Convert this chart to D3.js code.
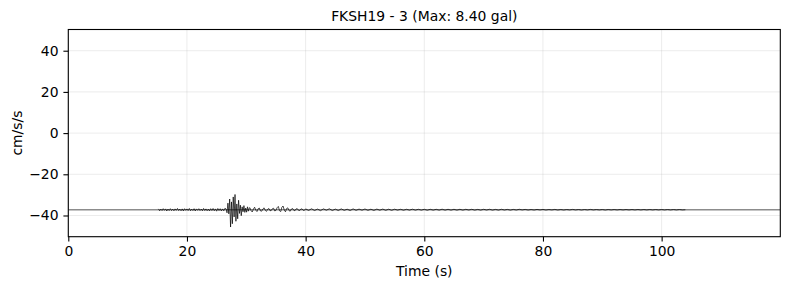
<!DOCTYPE html>
<html>
<head>
<meta charset="utf-8">
<script src="https://cdn.jsdelivr.net/npm/d3@7"></script>
<style>
  body { margin: 0; background: #fff; }
  svg { font-family: "DejaVu Sans", sans-serif; }
</style>
</head>
<body>
<div id="vis"></div>
<script>
// station record, cm/s/s, stored as deviation from the record offset
const title = "FKSH19 - 3 (Max: 8.40 gal)";
const offset = -37.2;
const xTicks = [0, 20, 40, 60, 80, 100];
const yTicks = [-40, -20, 0, 20, 40];

// pre-event noise, 15.2 s .. 26.4 s every 0.2 s
const noiseStart = 15.2, noiseStep = 0.2;
const noiseValues = [0.4,-0.5,0.3,-0.4,0.5,-0.3,0.4,-0.6,0.3,-0.4,
  0.5,-0.4,0.3,-0.5,0.4,-0.3,0.6,-0.4,0.3,-0.5,
  0.4,-0.6,0.5,-0.3,0.4,-0.4,0.6,-0.5,0.3,-0.4,
  0.5,-0.6,0.4,-0.3,0.5,-0.4,0.3,-0.5,0.6,-0.4,
  0.4,-0.5,0.3,-0.6,0.5,-0.4,0.6,-0.5,0.4,-0.7,
  0.6,-0.4,0.5,-0.6,0.4,-0.5,0.7];

// main shaking, 26.6 s .. 30.5 s every 0.15 s
const burstStart = 26.6, burstStep = 0.15;
const burstValues = [0.3,-1.5,3.2,-2.0,5.2,-8.4,3.8,-6.8,6.2,-3.5,
  7.4,-5.6,2.8,-4.4,4.6,-1.8,2.2,-2.9,1.4,-1.0,
  2.0,-1.3,0.8,-1.2,1.4,-0.7,0.9];

// coda, 30.6 s .. 39.8 s every 0.2 s
const codaStart = 30.6, codaStep = 0.2;
const codaValues = [1.0,-0.4,-1.1,0.3,1.2,-0.2,-0.9,0.5,0.8,-0.6,
  -0.7,0.4,0.9,-0.3,-0.8,0.2,0.6,-0.5,-0.4,0.5,
  0.7,-0.6,-0.3,1.0,1.6,-0.5,-0.9,1.2,1.8,-0.2,
  -1.0,0.6,0.9,-0.4,-0.7,0.3,0.6,-0.3,-0.5,0.4,
  0.5,-0.3,-0.4,0.3,0.4,-0.3,-0.3];

// tail, 40 s .. 104 s every 0.5 s
const tailStart = 40, tailStep = 0.5;
const tailValues = [0.4,-0.35,0.45,-0.4,0.3,-0.45,0.4,-0.25,0.45,-0.4,
  0.3,-0.4,0.4,-0.3,0.25,-0.4,0.4,-0.3,0.3,-0.25,
  0.35,-0.3,0.25,-0.35,0.3,-0.25,0.3,-0.3,0.25,-0.3,
  0.25,-0.2,0.2,-0.25,0.2,-0.2,0.25,-0.2,0.2,-0.2,
  0.2,-0.25,0.2,-0.2,0.2,-0.2,0.25,-0.2,0.2,-0.2,
  0.2,-0.2,0.2,-0.2,0.2,-0.15,0.2,-0.2,0.15,-0.2,
  0.2,-0.15,0.2,-0.2,0.15,-0.2,0.2,-0.15,0.15,-0.2,
  0.15,-0.15,0.2,-0.1,0.15,-0.15,0.1,-0.15,0.15,-0.1,
  0.15,-0.15,0.1,-0.1,0.15,-0.15,0.1,-0.15,0.1,-0.1,
  0.15,-0.1,0.1,-0.15,0.1,-0.1,0.15,-0.1,0.1,-0.1,
  0.1,-0.15,0.1,-0.1,0.1,-0.1,0.1,-0.1,0.1,-0.1,
  0.1,-0.1,0.1,-0.1,0.1,-0.1,0.1,-0.1,0.1,-0.1,
  0.1,-0.1,0.1,-0.1,0.1,-0.1,0.1,-0.1,0.0];

const width = 790, height = 290;
const margin = { top: 29.5, right: 9.7, bottom: 53.3, left: 68.3 };

const segments = [
  [noiseStart, noiseStep, noiseValues],
  [burstStart, burstStep, burstValues],
  [codaStart, codaStep, codaValues],
  [tailStart, tailStep, tailValues]
];
const trace = segments.flatMap(([t0, dt, vals]) =>
  vals.map((v, i) => ({ t: t0 + i * dt, a: offset + v })));

const svg = d3.select("#vis").append("svg")
  .attr("width", width).attr("height", height)
  .attr("viewBox", [0, 0, width, height]);

const x = d3.scaleLinear([0, 120], [margin.left, width - margin.right]);
const y = d3.scaleLinear([-50.3, 50.3], [height - margin.bottom, margin.top]);

// grid
svg.append("g")
  .attr("stroke", "#b0b0b0").attr("stroke-opacity", 0.3).attr("stroke-width", 0.8)
  .call(g => g.selectAll(".vx").data(xTicks).join("line")
    .attr("x1", d => x(d)).attr("x2", d => x(d))
    .attr("y1", margin.top).attr("y2", height - margin.bottom))
  .call(g => g.selectAll(".hy").data(yTicks).join("line")
    .attr("class", "hy")
    .attr("x1", margin.left).attr("x2", width - margin.right)
    .attr("y1", d => y(d)).attr("y2", d => y(d)));

const plot = svg.append("g");
plot.append("clipPath").attr("id", "clip").append("rect")
  .attr("x", margin.left).attr("y", margin.top)
  .attr("width", width - margin.left - margin.right)
  .attr("height", height - margin.top - margin.bottom);

// offset reference line
plot.append("line")
  .attr("clip-path", "url(#clip)")
  .attr("x1", margin.left).attr("x2", width - margin.right)
  .attr("y1", y(offset)).attr("y2", y(offset))
  .attr("stroke", "#8c8c8c").attr("stroke-width", 1.4);

const line = d3.line().x(d => x(d.t)).y(d => y(d.a));
plot.append("path")
  .datum(trace)
  .attr("clip-path", "url(#clip)")
  .attr("fill", "none")
  .attr("stroke", "#000")
  .attr("stroke-width", 0.7)
  .attr("d", line);

// axes
const fmt = d => String(d).replace("-", "\u2212");
svg.append("g")
  .attr("transform", `translate(0,${height - margin.bottom})`)
  .call(d3.axisBottom(x).tickValues(xTicks).tickFormat(fmt).tickSize(4.9).tickPadding(4.9))
  .call(g => g.select(".domain").remove())
  .call(g => g.selectAll("text").attr("font-size", 13.9).attr("fill", "#000").attr("font-family", "DejaVu Sans"))
  .call(g => g.selectAll("line").attr("stroke-width", 1.1));

svg.append("g")
  .attr("transform", `translate(${margin.left},0)`)
  .call(d3.axisLeft(y).tickValues(yTicks).tickFormat(fmt).tickSize(4.9).tickPadding(4.9))
  .call(g => g.select(".domain").remove())
  .call(g => g.selectAll("text").attr("font-size", 13.9).attr("fill", "#000").attr("font-family", "DejaVu Sans"))
  .call(g => g.selectAll("line").attr("stroke-width", 1.1));

// frame
svg.append("rect")
  .attr("x", margin.left).attr("y", margin.top)
  .attr("width", width - margin.left - margin.right)
  .attr("height", height - margin.top - margin.bottom)
  .attr("fill", "none").attr("stroke", "#000").attr("stroke-width", 1.1);

svg.append("text")
  .attr("x", (margin.left + width - margin.right) / 2).attr("y", 21)
  .attr("text-anchor", "middle").attr("font-size", 13.9)
  .text(title);

svg.append("text")
  .attr("x", (margin.left + width - margin.right) / 2).attr("y", 276)
  .attr("text-anchor", "middle").attr("font-size", 13.9)
  .text("Time (s)");

svg.append("text")
  .attr("transform", `translate(22,${(margin.top + height - margin.bottom) / 2}) rotate(-90)`)
  .attr("text-anchor", "middle").attr("font-size", 13.9)
  .text("cm/s/s");
</script>
</body>
</html>
